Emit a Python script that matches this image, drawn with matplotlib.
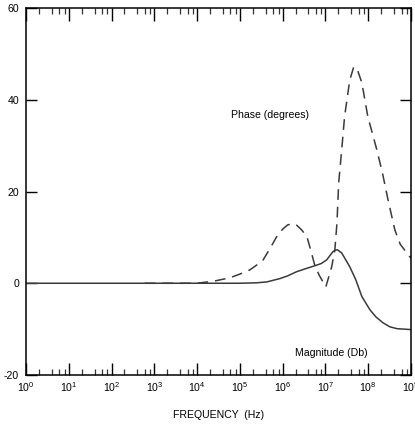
import matplotlib
matplotlib.use("Agg")
import matplotlib.pyplot as plt
from matplotlib.ticker import FixedLocator, NullFormatter

plt.rcParams["font.family"] = ["Liberation Sans", "DejaVu Sans"]
plt.rcParams["mathtext.default"] = "regular"

# Frequency response samples (Hz)
mag_freq = [1e0, 1e5, 2.5e5, 4.3e5, 8.5e5, 1.3e6, 2.1e6, 3.5e6, 5.6e6, 8e6,
            1.07e7, 1.5e7, 1.7e7, 1.9e7, 2.4e7, 3.7e7, 5.1e7, 7.1e7, 1.1e8,
            1.5e8, 2.2e8, 3.2e8, 4.7e8, 1e9]
mag_db = [0, 0, 0.1, 0.3, 1.0, 1.6, 2.5, 3.2, 3.8, 4.3,
          5.1, 6.9, 7.2, 7.3, 6.6, 3.6, 0.8, -2.9, -5.8,
          -7.3, -8.6, -9.5, -9.9, -10.1]

phase_freq = [6e2, 1e4, 2.6e4, 5.9e4, 1e5, 1.7e5, 2.5e5, 3.5e5, 5e5, 7.2e5,
              1e6, 1.3e6, 1.7e6, 2.1e6, 2.8e6, 3.7e6, 4.6e6, 5.6e6, 7.1e6,
              1.02e7, 1.4e7, 1.66e7, 1.86e7, 2.04e7, 2.4e7, 2.8e7, 3.7e7,
              4.6e7, 5.6e7, 7.1e7, 9.8e7, 1.6e8, 2.2e8, 2.9e8, 4.2e8, 5.6e8,
              9.3e8, 1e9]
phase_deg = [0, 0, 0.5, 1.2, 2.0, 2.9, 4.0, 5.1, 7.5, 10.1,
             11.8, 12.7, 13.0, 12.7, 11.6, 10.1, 7.0, 4.0, 1.8,
             -0.8, 3.6, 7.3, 13.2, 21.9, 29.1, 36.3, 44.3,
             47.2, 46.5, 43.7, 36.3, 29.0, 23.6, 18.2, 11.6, 8.5,
             5.8, 5.5]

y_ticks = [-20, 0, 20, 40, 60]
x_decades = list(range(0, 10))

fs = 7.6

fig = plt.figure(figsize=(4.15, 4.24), dpi=100)
ax = fig.add_axes([26 / 415, 49 / 424, 385 / 415, 367 / 424])

curve_color = "#3a3a3a"
ax.plot(mag_freq, mag_db, color=curve_color, lw=1.1, solid_joinstyle="round")
ax.plot(phase_freq, phase_deg, color=curve_color, lw=1.1,
        linestyle=(0, (7, 4.5)))

ax.set_xscale("log")
ax.set_xlim(1e0, 1e9)
ax.set_ylim(-20, 60)

major = [10.0 ** d for d in x_decades]
minor = [m * 10.0 ** d for d in range(0, 9) for m in (2, 4, 6, 8)]
ax.xaxis.set_major_locator(FixedLocator(major))
ax.xaxis.set_minor_locator(FixedLocator(minor))
ax.xaxis.set_minor_formatter(NullFormatter())
ax.set_xticklabels([r"$10^{%d}$" % d for d in x_decades])
ax.set_yticks(y_ticks)
ax.set_yticklabels([str(v) for v in y_ticks])

ax.tick_params(axis="both", which="major", direction="in", labelsize=fs,
               color="black", width=1.0)
ax.tick_params(axis="x", which="major", length=9, top=True, pad=3.5)
ax.tick_params(axis="x", which="minor", direction="in", length=4.5,
               top=True, color="#333333", width=0.9)
ax.tick_params(axis="y", which="major", length=8, right=True, pad=5)

for s in ax.spines.values():
    s.set_linewidth(1.1)
    s.set_color("black")

ax.set_xlabel("FREQUENCY  (Hz)", fontsize=fs, labelpad=12)

ax.text(5e5, 36.7, "Phase (degrees)", fontsize=fs, ha="center", va="center")
ax.text(1.4e7, -15.1, "Magnitude (Db)", fontsize=fs, ha="center", va="center")

fig.savefig("out.png", dpi=100)
